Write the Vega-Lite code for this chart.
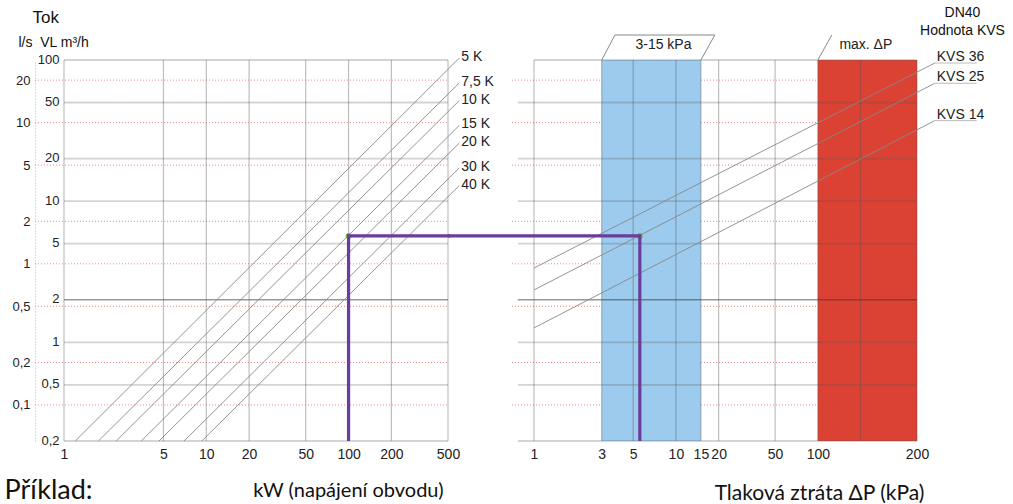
{
  "$schema": "https://vega.github.io/schema/vega-lite/v6.json",
  "width": 1013,
  "height": 504,
  "autosize": {"type": "none"},
  "padding": 0,
  "background": "white",
  "config": {
    "view": {"stroke": null},
    "axis": {"grid": false, "ticks": false, "domain": false, "labelFont": "Liberation Sans", "labelColor": "#222", "labelFlush": false, "labelOverlap": false, "titleFont": "Liberation Sans", "titleFontWeight": "normal", "titleColor": "#111", "titleAngle": 0, "titleAlign": "left", "titleBaseline": "alphabetic"}
  },
  "datasets": {
    "dt": [
      {"dt": "5 K", "kw": 1.2, "q": 0.2}, {"dt": "5 K", "kw": 600, "q": 103.2},
      {"dt": "7,5 K", "kw": 1.745, "q": 0.2}, {"dt": "7,5 K", "kw": 600, "q": 68.8},
      {"dt": "10 K", "kw": 2.326, "q": 0.2}, {"dt": "10 K", "kw": 600, "q": 51.6},
      {"dt": "15 K", "kw": 3.489, "q": 0.2}, {"dt": "15 K", "kw": 600, "q": 34.4},
      {"dt": "20 K", "kw": 4.652, "q": 0.2}, {"dt": "20 K", "kw": 600, "q": 25.8},
      {"dt": "30 K", "kw": 6.978, "q": 0.2}, {"dt": "30 K", "kw": 600, "q": 17.2},
      {"dt": "40 K", "kw": 9.304, "q": 0.2}, {"dt": "40 K", "kw": 600, "q": 12.9}
    ],
    "kvs": [
      {"kvs": "KVS 36", "kpa": 1, "q": 3.36}, {"kvs": "KVS 36", "kpa": 667, "q": 95.2},
      {"kvs": "KVS 25", "kpa": 1, "q": 2.35}, {"kvs": "KVS 25", "kpa": 667, "q": 68.4},
      {"kvs": "KVS 14", "kpa": 1, "q": 1.265}, {"kvs": "KVS 14", "kpa": 667, "q": 37.2}
    ]
  },
  "resolve": {"scale": {"x": "independent", "y": "independent"}, "axis": {"x": "independent", "y": "independent"}},
  "layer": [
    {
      "data": {"values": [{"ls": 20}, {"ls": 10}, {"ls": 5}, {"ls": 2}, {"ls": 1}, {"ls": 0.5}, {"ls": 0.2}, {"ls": 0.1}]},
      "mark": {"type": "rule", "stroke": "#ee8888", "strokeWidth": 1, "strokeDash": [1, 2]},
      "encoding": {
        "y": {"field": "ls", "type": "quantitative", "scale": {"type": "log", "domain": [0.0555556, 27.777778], "range": [441, 60], "nice": false},
              "axis": {"orient": "left", "offset": -35, "values": [0.1, 0.2, 0.5, 1, 2, 5, 10, 20], "labelExpr": "replace(format(datum.value, '~g'), '.', ',')", "labelFontSize": 13, "labelPadding": 5, "domain": true, "domainColor": "#f0a0a0", "domainDash": [1, 2], "domainWidth": 1,
                       "title": "Příklad:", "titleFont": "Lato", "titleFontSize": 27, "titleX": -31, "titleY": 498}},
        "x": {"datum": 0.625, "type": "quantitative", "scale": {"type": "log", "domain": [1, 500], "range": [64, 448], "nice": false},
              "axis": {"orient": "top", "labels": false, "title": "Tok", "titleFontSize": 17, "titleX": 32, "titleY": 22}},
        "x2": {"datum": 500}
      }
    },
    {
      "layer": [
        {
          "data": {"values": [{"q": 50}, {"q": 20}, {"q": 10}, {"q": 5}, {"q": 1}, {"q": 0.5}]},
          "mark": {"type": "rule", "stroke": "#555", "strokeOpacity": 0.25, "strokeWidth": 1.8},
          "encoding": {
            "y": {"field": "q", "type": "quantitative", "scale": {"type": "log", "domain": [0.2, 100], "range": [441, 60], "nice": false},
                  "axis": {"orient": "left", "offset": -64, "values": [0.2, 0.5, 1, 2, 5, 10, 20, 50, 100], "labelExpr": "replace(format(datum.value, '~g'), '.', ',')", "labelFontSize": 13, "labelPadding": 5, "labelOffset": -1,
                           "title": "l/s\u00a0\u00a0VL m³/h", "titleFontSize": 14, "titleX": -46, "titleY": 46}},
            "x": {"datum": 1, "type": "quantitative", "scale": {"type": "log", "domain": [1, 500], "range": [64, 448], "nice": false}},
            "x2": {"datum": 500}
          }
        },
        {
          "data": {"values": [{"q": 100}, {"q": 0.2}]},
          "mark": {"type": "rule", "stroke": "#555", "strokeOpacity": 0.5, "strokeWidth": 1},
          "encoding": {
            "y": {"field": "q", "type": "quantitative"},
            "x": {"datum": 1, "type": "quantitative"},
            "x2": {"datum": 500}
          }
        },
        {
          "data": {"values": [{"q": 2}]},
          "mark": {"type": "rule", "stroke": "#333", "strokeOpacity": 0.75, "strokeWidth": 1},
          "encoding": {
            "y": {"field": "q", "type": "quantitative"},
            "x": {"datum": 1, "type": "quantitative"},
            "x2": {"datum": 500}
          }
        },
        {
          "data": {"values": [{"kw": 1}, {"kw": 5}, {"kw": 10}, {"kw": 20}, {"kw": 50}, {"kw": 100}, {"kw": 200}, {"kw": 500}]},
          "mark": {"type": "rule", "stroke": "#555", "strokeOpacity": 0.38, "strokeWidth": 1.2},
          "encoding": {
            "x": {"field": "kw", "type": "quantitative",
                  "axis": {"orient": "bottom", "offset": -63, "values": [1, 5, 10, 20, 50, 100, 200, 500], "format": "~g", "labelFontSize": 14, "labelPadding": 6,
                           "title": "kW (napájení obvodu)", "titleFont": "Lato", "titleFontSize": 20, "titleX": 348, "titleY": 55, "titleAlign": "center"}},
            "y": {"datum": 0.2, "type": "quantitative"},
            "y2": {"datum": 100}
          }
        },
        {
          "data": {"name": "dt"},
          "mark": {"type": "line", "stroke": "#888", "strokeWidth": 0.9},
          "encoding": {
            "x": {"field": "kw", "type": "quantitative"},
            "y": {"field": "q", "type": "quantitative"},
            "detail": {"field": "dt"}
          }
        },
        {
          "data": {"name": "dt"},
          "transform": [{"filter": "datum.kw == 600"}],
          "mark": {"type": "text", "align": "left", "baseline": "middle", "dx": 2, "dy": -1, "font": "Liberation Sans", "fontSize": 14, "color": "#222"},
          "encoding": {
            "x": {"field": "kw", "type": "quantitative"},
            "y": {"field": "q", "type": "quantitative"},
            "text": {"field": "dt"}
          }
        },
        {
          "data": {"values": [{"kw": 100, "q": 5.67}]},
          "mark": {"type": "point", "filled": true, "color": "#77b843", "size": 36, "opacity": 1},
          "encoding": {
            "x": {"field": "kw", "type": "quantitative"},
            "y": {"field": "q", "type": "quantitative"}
          }
        },
        {
          "data": {"values": [{"i": 0, "kw": 100, "q": 0.2}, {"i": 1, "kw": 100, "q": 5.67}, {"i": 2, "kw": 520, "q": 5.67}]},
          "mark": {"type": "line", "stroke": "#6a3d9a", "strokeWidth": 3.2, "strokeJoin": "miter"},
          "encoding": {
            "x": {"field": "kw", "type": "quantitative"},
            "y": {"field": "q", "type": "quantitative"},
            "order": {"field": "i"}
          }
        }
      ]
    },
    {
      "layer": [
        {
          "data": {"values": [{"q": 72}, {"q": 36}, {"q": 18}, {"q": 7.2}, {"q": 3.6}, {"q": 1.8}, {"q": 0.72}, {"q": 0.36}]},
          "mark": {"type": "rule", "stroke": "#ee8888", "strokeWidth": 1, "strokeDash": [1, 2]},
          "encoding": {
            "y": {"field": "q", "type": "quantitative", "scale": {"type": "log", "domain": [0.2, 100], "range": [441, 60], "nice": false},
                  "axis": {"orient": "right", "offset": 0, "labels": false, "title": ["DN40", "Hodnota KVS"], "titleFontSize": 14, "titleAlign": "center", "titleX": -51, "titleY": 16, "titleLineHeight": 18}},
            "x": {"datum": 0.7, "type": "quantitative", "scale": {"type": "log", "domain": [1, 500], "range": [534, 917], "nice": false}},
            "x2": {"datum": 500}
          }
        },
        {
          "data": {"values": [{"lo": 3, "hi": 15}]},
          "mark": {"type": "rect", "color": "#9ccbee"},
          "encoding": {
            "x": {"field": "lo", "type": "quantitative"},
            "x2": {"field": "hi"},
            "y": {"datum": 0.2, "type": "quantitative"},
            "y2": {"datum": 100}
          }
        },
        {
          "data": {"values": [{"lo": 100, "hi": 500}]},
          "mark": {"type": "rect", "color": "#dc4234"},
          "encoding": {
            "x": {"field": "lo", "type": "quantitative"},
            "x2": {"field": "hi"},
            "y": {"datum": 0.2, "type": "quantitative"},
            "y2": {"datum": 100}
          }
        },
        {
          "data": {"values": [{"q": 50}, {"q": 20}, {"q": 10}, {"q": 5}, {"q": 1}, {"q": 0.5}]},
          "mark": {"type": "rule", "stroke": "#555", "strokeOpacity": 0.25, "strokeWidth": 1.8},
          "encoding": {
            "y": {"field": "q", "type": "quantitative"},
            "x": {"datum": 0.77, "type": "quantitative"},
            "x2": {"datum": 500}
          }
        },
        {
          "data": {"values": [{"q": 100}]},
          "mark": {"type": "rule", "stroke": "#555", "strokeOpacity": 0.5, "strokeWidth": 1},
          "encoding": {
            "y": {"field": "q", "type": "quantitative"},
            "x": {"datum": 1, "type": "quantitative"},
            "x2": {"datum": 500}
          }
        },
        {
          "data": {"values": [{"q": 0.2}]},
          "mark": {"type": "rule", "stroke": "#555", "strokeOpacity": 0.5, "strokeWidth": 1},
          "encoding": {
            "y": {"field": "q", "type": "quantitative"},
            "x": {"datum": 0.77, "type": "quantitative"},
            "x2": {"datum": 500}
          }
        },
        {
          "data": {"values": [{"q": 2}]},
          "mark": {"type": "rule", "stroke": "#333", "strokeOpacity": 0.75, "strokeWidth": 1},
          "encoding": {
            "y": {"field": "q", "type": "quantitative"},
            "x": {"datum": 0.77, "type": "quantitative"},
            "x2": {"datum": 500}
          }
        },
        {
          "data": {"values": [{"kpa": 1}, {"kpa": 3}, {"kpa": 5}, {"kpa": 10}, {"kpa": 15}, {"kpa": 20}, {"kpa": 50}, {"kpa": 100}, {"kpa": 200}, {"kpa": 500}]},
          "mark": {"type": "rule", "stroke": "#555", "strokeOpacity": 0.38, "strokeWidth": 1.2},
          "encoding": {
            "x": {"field": "kpa", "type": "quantitative",
                  "axis": {"orient": "bottom", "offset": -63, "values": [1, 3, 5, 10, 15, 20, 50, 100, 500], "labelExpr": "datum.value == 500 ? '200' : format(datum.value, '~g')", "labelFontSize": 14, "labelPadding": 6,
                           "title": "Tlaková ztráta ΔP (kPa)", "titleFont": "Lato", "titleFontSize": 21, "titleX": 819, "titleY": 58, "titleAlign": "center"}},
            "y": {"datum": 0.2, "type": "quantitative"},
            "y2": {"datum": 100}
          }
        },
        {
          "data": {"name": "kvs"},
          "mark": {"type": "line", "stroke": "#888", "strokeWidth": 0.9},
          "encoding": {
            "x": {"field": "kpa", "type": "quantitative"},
            "y": {"field": "q", "type": "quantitative"},
            "detail": {"field": "kvs"}
          }
        },
        {
          "data": {"name": "kvs"},
          "transform": [{"filter": "datum.kpa == 667"}],
          "mark": {"type": "rule", "stroke": "#bbbbbb", "strokeWidth": 1},
          "encoding": {
            "x": {"field": "kpa", "type": "quantitative"},
            "x2": {"datum": 1318},
            "y": {"field": "q", "type": "quantitative"}
          }
        },
        {
          "data": {"name": "kvs"},
          "transform": [{"filter": "datum.kpa == 667"}],
          "mark": {"type": "text", "align": "left", "baseline": "alphabetic", "dx": 2, "dy": -2, "font": "Liberation Sans", "fontSize": 14, "color": "#222"},
          "encoding": {
            "x": {"field": "kpa", "type": "quantitative"},
            "y": {"field": "q", "type": "quantitative"},
            "text": {"field": "kvs"}
          }
        },
        {
          "data": {"values": [{"i": 0, "kpa": 3, "q": 100}, {"i": 1, "kpa": 3.72, "q": 150.3}, {"i": 2, "kpa": 18.8, "q": 150.3}, {"i": 3, "kpa": 15, "q": 100}]},
          "mark": {"type": "line", "stroke": "#888", "strokeWidth": 1},
          "encoding": {
            "x": {"field": "kpa", "type": "quantitative"},
            "y": {"field": "q", "type": "quantitative"},
            "order": {"field": "i"}
          }
        },
        {
          "data": {"values": [{"i": 0, "kpa": 100, "q": 100}, {"i": 1, "kpa": 125.5, "q": 150.3}]},
          "mark": {"type": "line", "stroke": "#888", "strokeWidth": 1},
          "encoding": {
            "x": {"field": "kpa", "type": "quantitative"},
            "y": {"field": "q", "type": "quantitative"},
            "order": {"field": "i"}
          }
        },
        {
          "data": {"values": [{"label": "3-15 kPa", "kpa": 8.17, "q": 127.7}, {"label": "max. ΔP", "kpa": 218, "q": 127.7}]},
          "mark": {"type": "text", "align": "center", "baseline": "middle", "font": "Liberation Sans", "fontSize": 14, "color": "#222"},
          "encoding": {
            "x": {"field": "kpa", "type": "quantitative"},
            "y": {"field": "q", "type": "quantitative"},
            "text": {"field": "label"}
          }
        },
        {
          "data": {"values": [{"kpa": 5.57, "q": 5.67}]},
          "mark": {"type": "point", "filled": true, "color": "#77b843", "size": 36, "opacity": 1},
          "encoding": {
            "x": {"field": "kpa", "type": "quantitative"},
            "y": {"field": "q", "type": "quantitative"}
          }
        },
        {
          "data": {"values": [{"i": 0, "kpa": 0.248, "q": 5.67}, {"i": 1, "kpa": 5.57, "q": 5.67}, {"i": 2, "kpa": 5.57, "q": 0.2}]},
          "mark": {"type": "line", "stroke": "#6a3d9a", "strokeWidth": 3.2, "strokeJoin": "miter"},
          "encoding": {
            "x": {"field": "kpa", "type": "quantitative"},
            "y": {"field": "q", "type": "quantitative"},
            "order": {"field": "i"}
          }
        }
      ]
    }
  ]
}
